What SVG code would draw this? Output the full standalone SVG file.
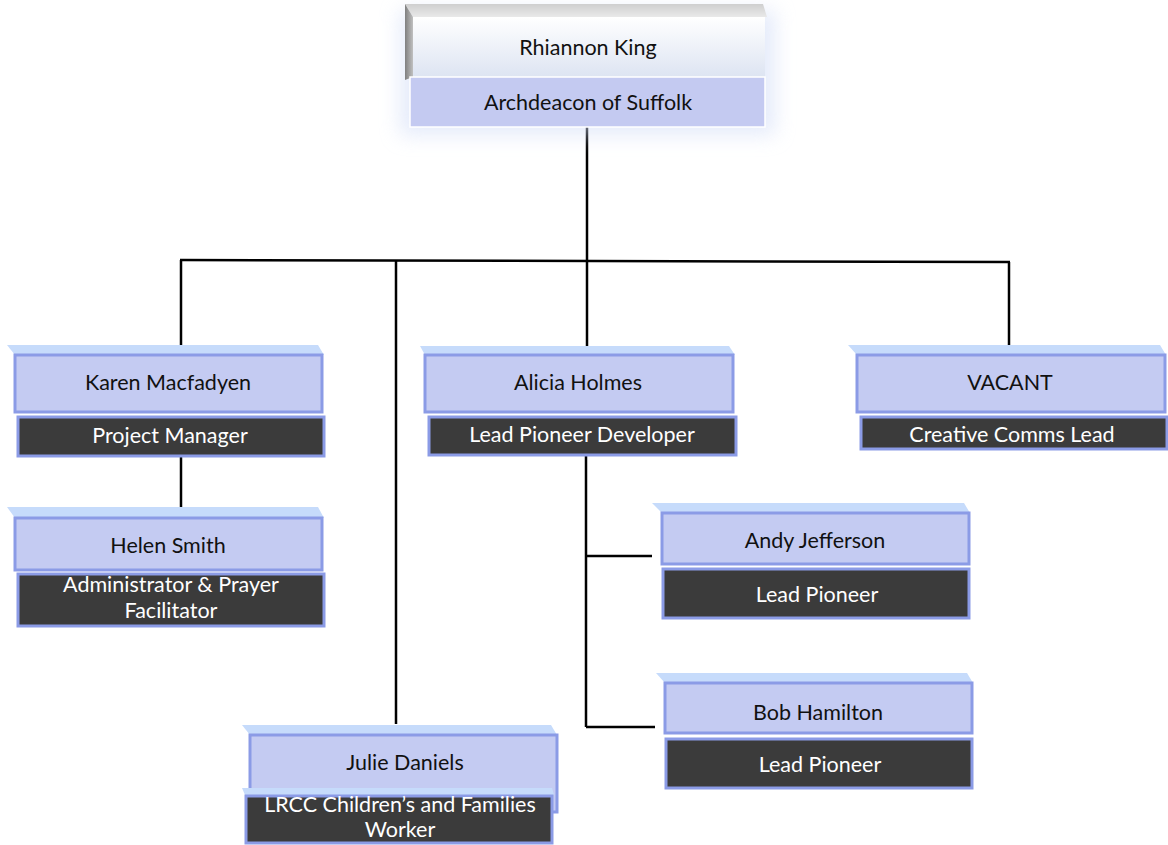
<svg xmlns="http://www.w3.org/2000/svg" width="1168" height="845" viewBox="0 0 1168 845">
<style>
.bev{fill:#c6dbfb}
.main{fill:#c4cbf2;stroke:#8b9be6;stroke-width:3}
.role{fill:#3b3b3b;stroke:#8b9be6;stroke-width:3}
.name{font-family:Lato,"Open Sans",sans-serif;font-size:21.5px;fill:#111;text-anchor:middle}
.rt{font-family:Lato,"Open Sans",sans-serif;font-size:21.5px;fill:#fff;text-anchor:middle}
.ln{stroke:#000;stroke-width:2.5;fill:none}
</style>
<defs>
<linearGradient id="topg" x1="0" y1="0" x2="0" y2="1">
<stop offset="0" stop-color="#ffffff"/>
<stop offset="1" stop-color="#dde4f2"/>
</linearGradient>
<linearGradient id="tbev" x1="0" y1="0" x2="0" y2="1">
<stop offset="0" stop-color="#cfcfcf"/>
<stop offset="1" stop-color="#e9e9e9"/>
</linearGradient>
<linearGradient id="lbev" x1="0" y1="0" x2="1" y2="0">
<stop offset="0" stop-color="#7f7f7f"/>
<stop offset="1" stop-color="#c0c0c0"/>
</linearGradient>
<filter id="glow" x="-20%" y="-40%" width="140%" height="180%">
<feGaussianBlur stdDeviation="10"/>
</filter>
</defs>

<g id="connectors">
<line class="ln" x1="587" y1="127" x2="587" y2="261"/>
<line class="ln" x1="180" y1="260" x2="1010" y2="262"/>
<line class="ln" x1="181" y1="260" x2="181" y2="345"/>
<line class="ln" x1="396" y1="261" x2="396" y2="724"/>
<line class="ln" x1="587" y1="261" x2="587" y2="346"/>
<line class="ln" x1="1009" y1="262" x2="1009" y2="345"/>
<line class="ln" x1="181" y1="457" x2="181" y2="507"/>
<line class="ln" x1="586" y1="456" x2="586" y2="727"/>
<line class="ln" x1="586" y1="556" x2="652" y2="556"/>
<line class="ln" x1="586" y1="727" x2="655" y2="727"/>
</g>

<g id="node-rhiannon">
<rect x="400" y="10" width="375" height="125" fill="#d3def7" filter="url(#glow)" opacity="0.6"/>
<polygon points="405,4 763,4 767,17 413,17" fill="url(#tbev)"/>
<polygon points="405,4 413,17 413,77 405,80" fill="url(#lbev)"/>
<rect x="413" y="17" width="352" height="60" fill="url(#topg)"/>
<rect x="410" y="77" width="355" height="50" fill="#c4caf1" stroke="#ffffff" stroke-width="1.5"/>
<text class="name" x="588" y="55">Rhiannon King</text>
<text class="name" x="588" y="110">Archdeacon of Suffolk</text>
</g>

<g id="node-karen">
<polygon class="bev" points="7,345 318,345 324,355 15,355"/>
<rect class="main" x="15" y="355" width="307" height="57"/>
<rect class="role" x="18" y="417" width="306" height="39"/>
<text class="name" x="168" y="390">Karen Macfadyen</text>
<text class="rt" x="170" y="443">Project Manager</text>
</g>

<g id="node-helen">
<polygon class="bev" points="7,507 318,507 324,518 15,518"/>
<rect class="main" x="15" y="518" width="307" height="52"/>
<rect class="role" x="18" y="574" width="306" height="52"/>
<text class="name" x="168" y="553">Helen Smith</text>
<text class="rt" x="171" y="592">Administrator &amp; Prayer</text>
<text class="rt" x="171" y="618">Facilitator</text>
</g>

<g id="node-alicia">
<polygon class="bev" points="420,346 729,346 735,355 425,355"/>
<rect class="main" x="425" y="355" width="308" height="57"/>
<rect class="role" x="429" y="417" width="307" height="38"/>
<text class="name" x="578" y="390">Alicia Holmes</text>
<text class="rt" x="582" y="442">Lead Pioneer Developer</text>
</g>

<g id="node-vacant">
<polygon class="bev" points="848,345 1160,345 1166,355 857,355"/>
<rect class="main" x="857" y="355" width="308" height="57"/>
<rect class="role" x="861" y="417" width="306" height="32"/>
<text class="name" x="1010" y="390">VACANT</text>
<text class="rt" x="1012" y="442">Creative Comms Lead</text>
</g>

<g id="node-andy">
<polygon class="bev" points="652,503 964,503 970,513 662,513"/>
<rect class="main" x="662" y="513" width="307" height="51"/>
<rect class="role" x="663" y="569" width="306" height="49"/>
<text class="name" x="815" y="548">Andy Jefferson</text>
<text class="rt" x="817" y="602">Lead Pioneer</text>
</g>

<g id="node-bob">
<polygon class="bev" points="656,673 967,673 973,683 665,683"/>
<rect class="main" x="665" y="683" width="307" height="50"/>
<rect class="role" x="666" y="739" width="306" height="49"/>
<text class="name" x="818" y="720">Bob Hamilton</text>
<text class="rt" x="820" y="772">Lead Pioneer</text>
</g>

<g id="node-julie">
<polygon class="bev" points="242,725 551,725 557,735 250,735"/>
<rect class="main" x="250" y="735" width="307" height="77"/>
<polygon class="bev" points="242,788 552,788 554,795 245,795"/>
<rect class="role" x="246" y="796" width="306" height="47"/>
<text class="name" x="405" y="770">Julie Daniels</text>
<text class="rt" x="400" y="812">LRCC Children’s and Families</text>
<text class="rt" x="400" y="837">Worker</text>
</g>
</svg>
